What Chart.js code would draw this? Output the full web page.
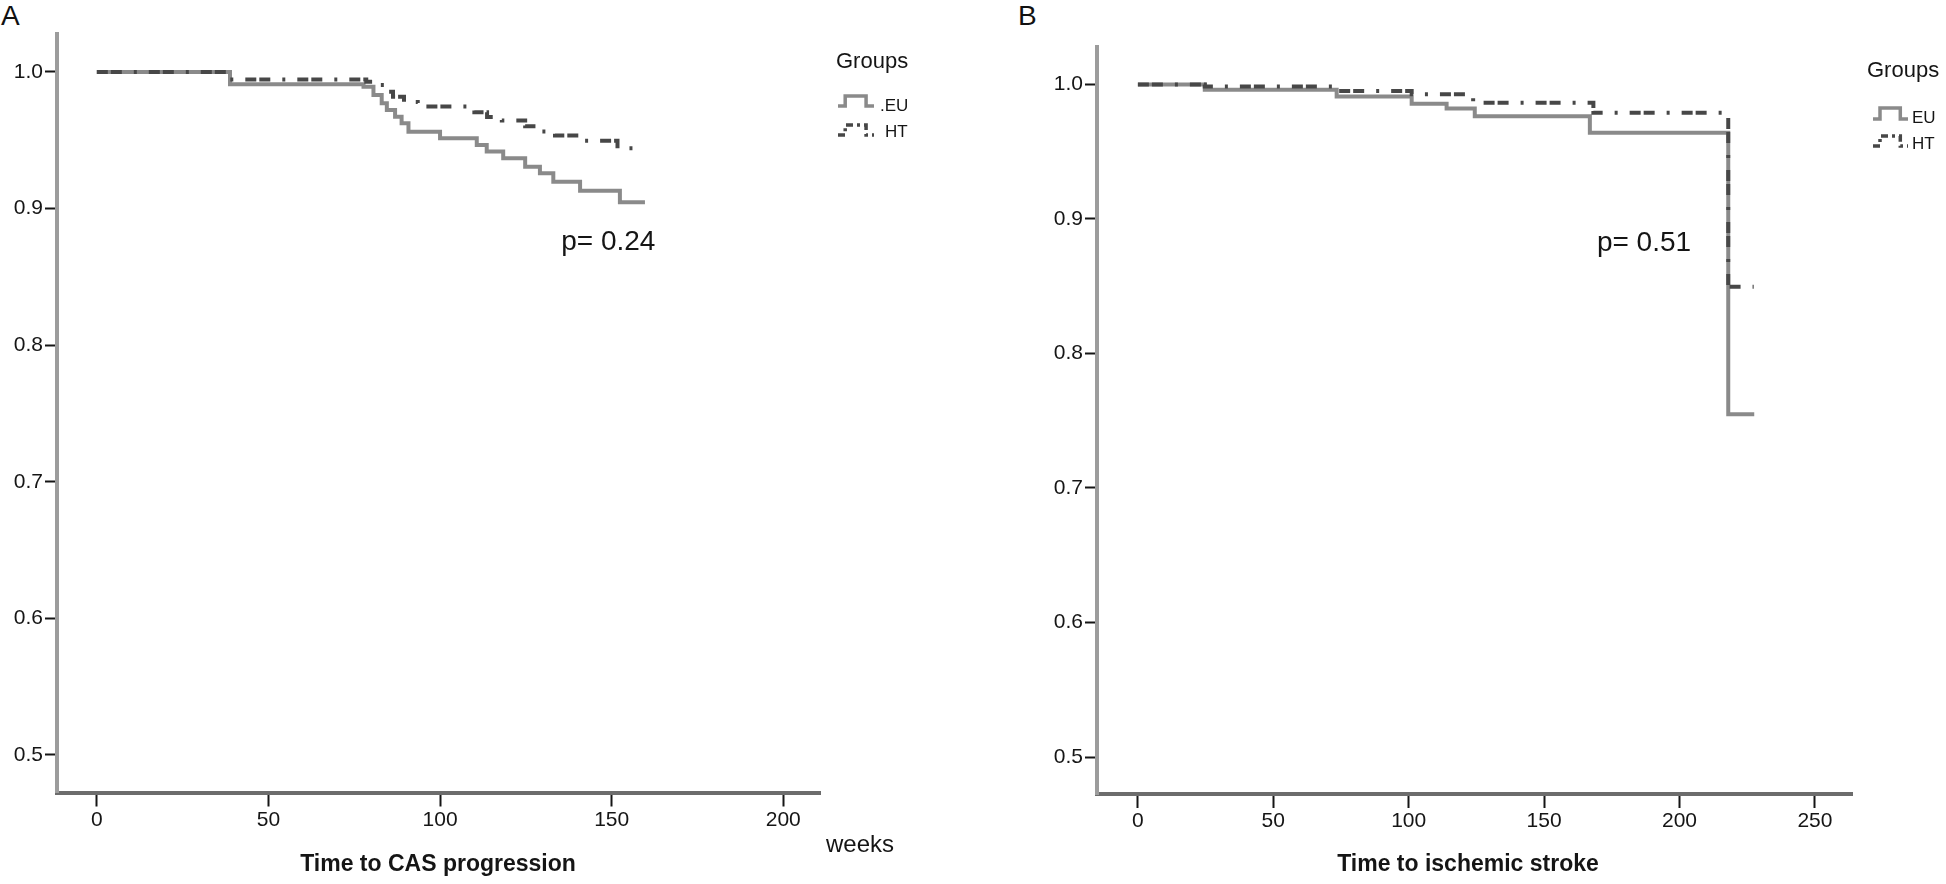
<!DOCTYPE html>
<html>
<head>
<meta charset="utf-8">
<script src="https://cdn.jsdelivr.net/npm/chart.js@4.4.1/dist/chart.umd.min.js"></script>
<style>
  html, body { margin: 0; padding: 0; background: #fff; }
  body { width: 1946px; height: 884px; position: relative; overflow: hidden; font-family: "Liberation Sans", Arial, sans-serif; }
  canvas { position: absolute; top: 0; }
  #chartA { left: 0; }
  #chartB { left: 973px; }
  .tag { position: absolute; top: 0; font-size: 28px; line-height: 32px; color: #111; }
</style>
</head>
<body>
<div class="tag" style="left:1px">A</div>
<div class="tag" style="left:1018px">B</div>
<canvas id="chartA" width="973" height="884"></canvas>
<canvas id="chartB" width="973" height="884"></canvas>
<script>
const groupsA = ['.EU', 'HT'];
const groupsB = ['EU', 'HT'];

// Panel A — time to CAS progression (weeks)
const weeksA_EU = [0, 38.8, 77.7, 80.6, 83.0, 84.5, 86.9, 88.8, 90.8, 100.0, 110.7, 113.6, 118.4, 124.8, 129.1, 133.0, 140.8, 152.4, 159.7];
const survA_EU  = [1.0, 0.991, 0.9892, 0.9832, 0.9771, 0.9722, 0.9673, 0.9624, 0.9563, 0.9515, 0.9466, 0.9417, 0.9369, 0.9307, 0.9258, 0.9197, 0.9131, 0.9046, 0.9046];
const weeksA_HT = [0, 38.8, 78.5, 81.1, 83.7, 86.3, 89.5, 93.5, 110.0, 113.7, 118.0, 124.8, 129.1, 133.5, 140.8, 151.7, 159.2];
const survA_HT  = [1.0, 0.9945, 0.9929, 0.9905, 0.9856, 0.9819, 0.978, 0.9748, 0.9705, 0.967, 0.9645, 0.9602, 0.9565, 0.9535, 0.9497, 0.9441, 0.9441];

// Panel B — time to ischemic stroke
const weeksB_EU = [0, 24.7, 73.4, 101.1, 114.0, 124.4, 166.9, 218.0, 227.6];
const survB_EU  = [1.0, 0.996, 0.991, 0.9857, 0.982, 0.9764, 0.9641, 0.7548, 0.7548];
const weeksB_HT = [0, 24.7, 73.4, 101.1, 123.8, 168.2, 218.0, 227.4];
const survB_HT  = [1.0, 0.9985, 0.995, 0.9926, 0.9864, 0.979, 0.8496, 0.8496];

const xTicksA = [0, 50, 100, 150, 200];
const xTicksB = [0, 50, 100, 150, 200, 250];
const yTicks  = [0.5, 0.6, 0.7, 0.8, 0.9, 1.0];

// ─── Styling ─────────────────────────────────────────────────────────────────
const FONT = '"Liberation Sans", Arial, sans-serif';
const INK = '#151515';
const EU_COLOR = '#8a8a8a';
const HT_COLOR = '#474747';
const HT_DASH = [11, 3, 11, 12, 3, 12];

Chart.defaults.font.family = FONT;

const pts = (xs, ys) => xs.map((x, i) => ({ x, y: ys[i] }));

function stepSymbol(ctx, x0, yHigh, yLow, w, color, dash) {
  ctx.save();
  ctx.strokeStyle = color;
  ctx.lineWidth = 3.5;
  ctx.setLineDash(dash || []);
  ctx.beginPath();
  ctx.moveTo(x0, yLow);
  ctx.lineTo(x0 + w * 0.2, yLow);
  ctx.lineTo(x0 + w * 0.2, yHigh);
  ctx.lineTo(x0 + w * 0.78, yHigh);
  ctx.lineTo(x0 + w * 0.78, yLow);
  ctx.lineTo(x0 + w, yLow);
  ctx.stroke();
  ctx.restore();
}

// texts and legend drawn on top of each panel
const overlay = {
  id: 'overlay',
  afterDraw(chart, args, o) {
    const { ctx, chartArea } = chart;
    const { x, y } = chart.scales;
    ctx.save();
    ctx.fillStyle = INK;
    ctx.textBaseline = 'alphabetic';

    ctx.font = `bold 23px ${FONT}`;
    ctx.textAlign = 'center';
    ctx.fillText(o.title, o.titleX, o.titleY);

    ctx.textAlign = 'left';
    if (o.unit) {
      ctx.font = `24px ${FONT}`;
      ctx.fillText(o.unit, o.unitX, o.unitY);
    }

    ctx.font = `28px ${FONT}`;
    ctx.fillText(o.pText, x.getPixelForValue(o.pAt[0]), y.getPixelForValue(o.pAt[1]));

    const L = o.legend;
    ctx.font = `22px ${FONT}`;
    ctx.fillText('Groups', L.titleX, L.titleY);
    ctx.font = `17px ${FONT}`;
    stepSymbol(ctx, L.symX, L.rows[0].hi, L.rows[0].lo, L.symW, EU_COLOR);
    ctx.fillText(L.names[0], L.rows[0].tx, L.rows[0].ty);
    stepSymbol(ctx, L.symX, L.rows[1].hi, L.rows[1].lo, L.symW, HT_COLOR, [7, 4, 3, 4]);
    ctx.fillText(L.names[1], L.rows[1].tx, L.rows[1].ty);
    ctx.restore();
  }
};

function axis(tickVals, min, max, opts) {
  return {
    type: 'linear',
    min, max,
    border: { color: opts.border, width: 4 },
    grid: { drawOnChartArea: false, drawTicks: true, tickLength: opts.tickLength, tickColor: INK, tickWidth: 2 },
    ticks: {
      color: INK,
      padding: opts.padding,
      font: { size: 21, family: FONT },
      maxRotation: 0,
      autoSkip: false,
      callback: opts.fmt,
    },
    afterBuildTicks: s => { s.ticks = tickVals.map(v => ({ value: v })); },
    afterFit: opts.fit,
  };
}

function buildKM(id, eu, ht, cfg) {
  return new Chart(document.getElementById(id), {
    type: 'line',
    data: {
      datasets: [
        { label: cfg.names[0], data: eu, borderColor: EU_COLOR, borderWidth: 4, pointRadius: 0, stepped: 'before', fill: false, order: 2 },
        { label: cfg.names[1], data: ht, borderColor: HT_COLOR, borderWidth: 4, borderDash: HT_DASH, pointRadius: 0, stepped: 'before', fill: false, order: 1 },
      ]
    },
    options: {
      responsive: false,
      animation: false,
      events: [],
      layout: { padding: { left: 0, top: cfg.top, right: cfg.right, bottom: 0 }, autoPadding: false },
      plugins: { legend: { display: false }, tooltip: { enabled: false }, overlay: cfg.overlay },
      scales: {
        x: axis(cfg.xTicks, cfg.xMin, cfg.xMax, {
          border: '#6c6c6c', tickLength: 14, padding: 1, fmt: v => String(v),
          fit: s => { s.height = cfg.bottomH; },
        }),
        y: axis(yTicks, 0.4725, 1.0278, {
          border: '#9c9c9c', tickLength: 12, padding: 2, fmt: v => v.toFixed(1),
          fit: s => { s.width = cfg.leftW; },
        }),
      },
    },
    plugins: [overlay],
  });
}

buildKM('chartA', pts(weeksA_EU, survA_EU), pts(weeksA_HT, survA_HT), {
  names: groupsA, xTicks: xTicksA, xMin: -11.6, xMax: 210.7,
  top: 34, right: 153, bottomH: 91.5, leftW: 57,
  overlay: {
    title: 'Time to CAS progression', titleX: 438, titleY: 871,
    unit: 'weeks', unitX: 826, unitY: 852,
    pText: 'p= 0.24', pAt: [135.3, 0.870],
    legend: {
      names: groupsA, titleX: 836, titleY: 68, symX: 838, symW: 36,
      rows: [{ hi: 96, lo: 106, tx: 880, ty: 111 }, { hi: 125, lo: 135, tx: 885, ty: 137 }],
    },
  },
});

buildKM('chartB', pts(weeksB_EU, survB_EU), pts(weeksB_HT, survB_HT), {
  names: groupsB, xTicks: xTicksB, xMin: -15.1, xMax: 263.7,
  top: 47, right: 94, bottomH: 90, leftW: 124,
  overlay: {
    title: 'Time to ischemic stroke', titleX: 495, titleY: 871,
    unit: null,
    pText: 'p= 0.51', pAt: [169.5, 0.8764],
    legend: {
      names: groupsB, titleX: 894, titleY: 77, symX: 900, symW: 35,
      rows: [{ hi: 108, lo: 119, tx: 939, ty: 123 }, { hi: 136, lo: 146, tx: 939, ty: 149 }],
    },
  },
});
</script>
</body>
</html>
